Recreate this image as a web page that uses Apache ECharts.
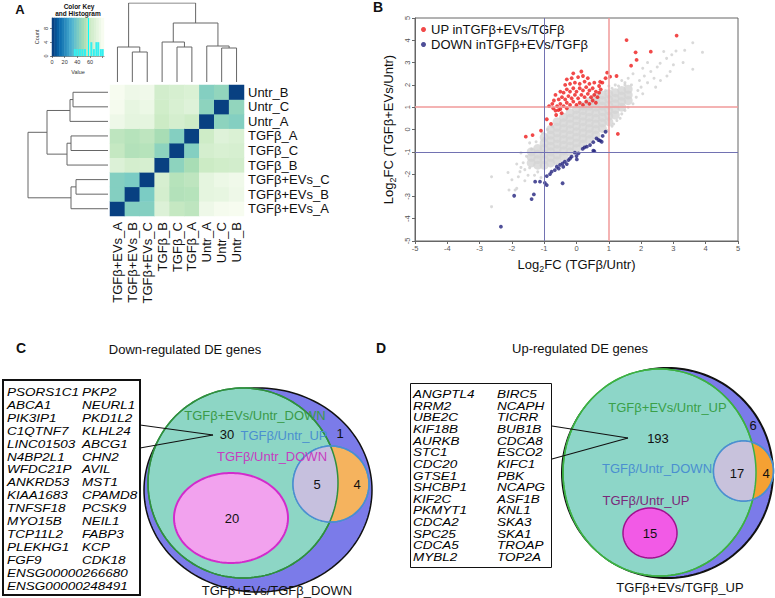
<!DOCTYPE html>
<html><head><meta charset="utf-8">
<script src="https://cdn.jsdelivr.net/npm/echarts@6/dist/echarts.min.js"></script>
<style>html,body{margin:0;padding:0;background:#fff}#c{width:775px;height:598px}</style>
</head><body><div id="c"></div>
<script>
const FONT = '"Liberation Sans", Arial, Helvetica, sans-serif';

// ---------- Panel A data ----------
const samples = ['TGFβ+EVs_A','TGFβ+EVs_B','TGFβ+EVs_C','TGFβ_B','TGFβ_C','TGFβ_A','Untr_A','Untr_C','Untr_B'];
const distMatrix = [
  [ 0, 42, 42, 68, 58, 56, 76, 79, 80],
  [42,  0, 40, 64, 53, 54, 72, 73, 76],
  [42, 40,  0, 65, 54, 56, 72, 75, 77],
  [68, 64, 65,  0, 44, 50, 60, 62, 63],
  [58, 53, 54, 44,  0, 42, 64, 66, 65],
  [56, 54, 56, 50, 42,  0, 61, 69, 67],
  [76, 72, 72, 60, 64, 61,  0, 44, 42],
  [79, 73, 75, 62, 66, 69, 44,  0, 45],
  [80, 76, 77, 63, 65, 67, 42, 45,  0]
];
// [childA, childB, height]; nodes 0-8 are leaves, 9+ are merges in order
const colMerges = [[1,2,30],[0,9,35],[4,5,35],[3,11,40],[7,8,34],[6,13,36],[12,14,59],[10,15,79]];
const rowMerges = [[1,2,32],[0,9,37],[4,5,37],[3,11,41],[7,8,35],[6,13,38],[12,14,61],[10,15,80]];
const keySteps = [0,4,8,12,16,20,24,28,32,36,40,44,48,52,56,60,64,68,72,76,80];
const histBins = [[36,2],[40,2],[44,2],[48,2],[52,2],[62,4],[66,2],[70,4],[73,4],[77,2],[80,2]];
const histPeak = 57;
const gnbu = ['#084081','#0868ac','#2b8cbe','#4eb3d3','#7bccc4','#a8ddb5','#ccebc5','#e0f3db','#f7fcf0'];

// ---------- Panel B data ----------
const fcThreshold = 1;
const upName = 'UP inTGFβ+EVs/TGFβ';
const downName = 'DOWN inTGFβ+EVs/TGFβ';
const grayCore = [
  [-1.4,-1.5],[-1.4,-1.25],[-1.4,-1.0],
  [-1.2,-1.6],[-1.2,-1.35],[-1.2,-1.1],[-1.2,-0.85],
  [-1,-1.6],[-1,-1.35],[-1,-1.1],[-1,-0.85],[-1,-0.6],[-1,-0.35],
  [-0.8,-1.5],[-0.8,-1.25],[-0.8,-1.0],[-0.8,-0.75],[-0.8,-0.5],[-0.8,-0.25],[-0.8,0.0],
  [-0.6,-1.4],[-0.6,-1.15],[-0.6,-0.9],[-0.6,-0.65],[-0.6,-0.4],[-0.6,-0.15],[-0.6,0.1],[-0.6,0.35],
  [-0.4,-1.2],[-0.4,-0.95],[-0.4,-0.7],[-0.4,-0.45],[-0.4,-0.2],[-0.4,0.05],[-0.4,0.3],[-0.4,0.55],
  [-0.2,-1.0],[-0.2,-0.75],[-0.2,-0.5],[-0.2,-0.25],[-0.2,0.0],[-0.2,0.25],[-0.2,0.5],[-0.2,0.75],
  [0,-0.85],[0,-0.6],[0,-0.35],[0,-0.1],[0,0.15],[0,0.4],[0,0.65],[0,0.9],
  [0.2,-0.65],[0.2,-0.4],[0.2,-0.15],[0.2,0.1],[0.2,0.35],[0.2,0.6],[0.2,0.85],[0.2,1.05],
  [0.4,-0.45],[0.4,-0.2],[0.4,0.05],[0.4,0.3],[0.4,0.55],[0.4,0.8],[0.4,1.05],[0.4,1.25],
  [0.6,-0.25],[0.6,0.0],[0.6,0.25],[0.6,0.5],[0.6,0.75],[0.6,1.0],[0.6,1.25],[0.6,1.45],
  [0.8,0.05],[0.8,0.3],[0.8,0.55],[0.8,0.8],[0.8,1.05],[0.8,1.3],[0.8,1.55],
  [1,0.35],[1,0.6],[1,0.85],[1,1.1],[1,1.35],[1,1.6],
  [1.2,0.65],[1.2,0.9],[1.2,1.15],[1.2,1.4],[1.2,1.65],
  [1.4,1.0],[1.4,1.25],[1.4,1.5],[1.4,1.75],
  [1.6,1.3],[1.6,1.55],[1.6,1.8]
];
const graySparse = [
  [-2.63,-3.46],[-2.63,-2.12],[-2.12,-1.93],[-1.90,-2.71],[-2.09,-2.71],[-1.80,-2.12],[-1.65,-1.49],[-1.39,-0.89],
  [-1.60,-1.80],[-1.50,-2.05],[-1.72,-1.70],[-1.45,-1.72],[-1.20,-1.90],[-1.10,-2.15],[-1.30,-2.05],[-1.55,-1.20],
  [-1.72,-1.05],[-1.25,-0.55],[-1.05,-0.15],[-1.45,-0.60],[-1.60,-2.30],[-1.85,-1.55],[-2.0,-2.25],[-1.85,-2.64],[-1.75,-1.89],
  [1.10,0.15],[1.25,0.40],[1.40,0.70],[1.60,1.00],[1.15,0.25],[1.35,0.50],[0.95,-0.05],[1.50,0.85],[1.75,1.15],
  [1.85,1.45],[2.05,1.60],[1.90,1.75],[1.70,2.00],[1.95,2.20],[2.00,1.90],[2.10,2.40],[2.20,2.10],[2.30,2.60],
  [2.40,2.30],[2.50,2.80],[2.59,2.97],[2.79,3.19],[2.90,2.60],[3.08,3.52],[3.30,3.00],[3.60,3.89],[3.90,3.46],
  [3.60,2.70],[1.60,2.30],[1.50,2.10],[1.75,2.50],[2.05,2.75],[2.20,3.00],[2.45,1.90],[2.60,2.20],[2.80,2.40],
  [3.00,2.90],[1.40,2.20],[1.20,2.00],[1.00,1.95],[2.95,3.35],[3.35,3.55],[2.70,3.50],
  [-0.75,0.15],[-0.9,0.0],[-1.0,-0.4],[0.7,1.6],[0.9,1.75],[1.1,1.85],[1.3,1.95],[1.5,2.0]
];
const upPts = [
  [-0.6,1.05],[-0.5,1.15],[-0.4,1.05],[-0.3,1.2],[-0.2,1.1],[-0.1,1.25],[0.0,1.1],[0.1,1.2],[0.2,1.1],[0.3,1.25],[0.4,1.15],[0.5,1.3],[0.6,1.2],
  [-0.55,1.35],[-0.45,1.45],[-0.35,1.35],[-0.25,1.5],[-0.15,1.4],[-0.05,1.55],[0.05,1.4],[0.15,1.55],[0.25,1.45],[0.35,1.6],[0.45,1.45],[0.55,1.55],[0.65,1.45],
  [-0.5,1.7],[-0.4,1.65],[-0.3,1.8],[-0.2,1.7],[-0.1,1.85],[0.0,1.7],[0.1,1.85],[0.2,1.75],[0.3,1.9],[0.4,1.75],[0.5,1.85],[0.6,1.7],[0.7,1.65],
  [-0.35,2.0],[-0.2,2.05],[-0.05,2.1],[0.1,2.05],[0.25,2.15],[0.4,2.05],[0.55,2.1],[0.7,1.95],
  [-0.15,2.3],[0.05,2.35],[0.2,2.4],[0.35,2.3],[-0.3,2.25],[-0.1,2.52],[0.15,2.6],
  [-0.7,1.3],[-0.75,1.15],[-0.65,1.55],[0.75,1.8],[0.8,2.1],[0.73,2.14],[0.9,2.3],
  [-0.5,0.92],[-0.46,0.73],[-0.56,0.87],[-0.63,0.65],[-0.79,0.25],[-0.92,0.46],[-1.10,-0.05],[-1.36,-0.25],[-1.57,-0.32],
  [-0.72,0.95],[-0.85,1.05],[-0.3,0.95],[-0.65,0.85],
  [1.04,2.37],[1.24,2.40],[1.69,2.86],[1.86,3.12],[1.83,3.46],[2.30,3.49],[1.55,4.01],[3.10,4.21],[1.28,-0.20],[0.95,2.55]
];
const downPts = [
  [0.90,-0.10],[0.81,-0.29],[0.73,-0.50],[0.62,-0.40],[0.52,-0.57],[0.52,-0.95],[0.32,-0.77],[0.19,-0.87],[0.06,-1.07],
  [0.00,-1.19],[-0.05,-1.04],[0.01,-1.34],[-0.15,-1.22],[-0.25,-1.37],[-0.36,-1.44],[-0.43,-1.52],[-0.30,-1.55],
  [-0.51,-1.59],[-0.41,-1.67],[-0.61,-1.67],[-0.67,-1.82],[-0.77,-1.89],[-0.82,-2.00],[-0.92,-2.09],[-0.98,-2.39],
  [-0.92,-2.49],[-0.43,-2.41],[-1.13,-2.34],[-1.28,-2.34],[-1.32,-2.91],[-1.39,-3.12],[-1.93,-2.97],[-2.34,-4.36],
  [0.55,-0.97],[-0.2,-1.3],[-0.55,-1.75],[0.25,-0.8],[0.42,-0.7],[0.68,-0.47],[0.78,-0.55]
];

// ---------- Panels C / D data ----------
const downTitle = 'Down-regulated DE genes';
const upTitle = 'Up-regulated DE genes';
const downGenesLeft = ['PSORS1C1','ABCA1','PIK3IP1','C1QTNF7','LINC01503','N4BP2L1','WFDC21P','ANKRD53','KIAA1683','TNFSF18','MYO15B','TCP11L2','PLEKHG1','FGF9','ENSG00000266680','ENSG00000248491'];
const downGenesRight = ['PKP2','NEURL1','PKD1L2','KLHL24','ABCG1','CHN2','AVIL','MST1','CPAMD8','PCSK9','NEIL1','FABP3','KCP','CDK18'];
const upGenesLeft = ['ANGPTL4','RRM2','UBE2C','KIF18B','AURKB','STC1','CDC20','GTSE1','SHCBP1','KIF2C','PKMYT1','CDCA2','SPC25','CDCA5','MYBL2'];
const upGenesRight = ['BIRC5','NCAPH','TICRR','BUB1B','CDCA8','ESCO2','KIFC1','PBK','NCAPG','ASF1B','KNL1','SKA3','SKA1','TROAP','TOP2A'];
const downSets = ['TGFβ+EVs/Untr_DOWN','TGFβ/Untr_UP','TGFβ/Untr_DOWN','TGFβ+EVs/TGFβ_DOWN'];
const upSets = ['TGFβ+EVs/Untr_UP','TGFβ/Untr_DOWN','TGFβ/Untr_UP','TGFβ+EVs/TGFβ_UP'];
const downCounts = [30, 1, 5, 4, 20];
const upCounts = [193, 6, 17, 4, 15];

// ---------- Venn layout (diagram coordinates) ----------
const vennLayoutC = {
  outer: {c:[258,490], r:[114,102], fill:'#7b7be9', stroke:'#111', lw:1.5},
  big:   {c:[243,483], r:[95,95],  fill:'#8dd6c5', stroke:'#2f8f3f', lw:1.5},
  small: {c:[331,484], r:[38,38],  fill:'#f5b35e', stroke:'#4a8fd0', lw:1.5},
  lensFill: '#c6c0de',
  inner: {c:[231,518], r:[57,45],  fill:'#f2a2ee', stroke:'#d22bcc', lw:2},
  setPos: [[255,415,'#3a9a48'],[284,435,'#4a8fd0'],[272,456,'#c63cc0'],[277,590,'#111']],
  countPos: [[227,434],[340,433],[317,484],[357,484],[232,518]],
  pointer: [[[140,425],[213,435]],[[140,448],[213,435]]]
};
const vennLayoutD = {
  outer: {c:[667.5,473], r:[105.5,105], fill:'#7b7be9', stroke:'#111', lw:2},
  big:   {c:[659.5,472.5], r:[96.5,103.5], fill:'#8dd6c8', stroke:'#3cb043', lw:1.5},
  small: {c:[743.5,471], r:[30,30], fill:'#f5a133', stroke:'#4a8fd0', lw:1.5},
  lensFill: '#c8c2dc',
  inner: {c:[650,533], r:[27,25], fill:'#f25ae6', stroke:'#a0108f', lw:1.5},
  setPos: [[667.5,407,'#3aa048'],[657,468,'#4a8fd0'],[646,500,'#7a2a7a'],[680,587,'#111']],
  countPos: [[658,438],[753,425],[737,473],[766,473],[650,533]],
  pointer: [[[552,426],[628,438]],[[552,459],[628,438]]]
};

function buildVenn(L, sets, counts) {
  const parts = [];
  parts.push(Object.assign({kind:'ellipse'}, L.outer));
  parts.push(Object.assign({kind:'ellipse'}, L.big));
  parts.push(Object.assign({kind:'ellipse'}, L.small));
  parts.push({kind:'lens', a:L.small, b:L.big, fill:L.lensFill});
  parts.push(Object.assign({kind:'outline'}, L.big));
  parts.push(Object.assign({kind:'outline'}, L.small));
  parts.push(Object.assign({kind:'ellipse'}, L.inner));
  L.pointer.forEach(p => parts.push({kind:'line', pts:p}));
  sets.forEach((s,i) => parts.push({kind:'text', text:s, p:[L.setPos[i][0],L.setPos[i][1]], color:L.setPos[i][2]}));
  counts.forEach((n,i) => parts.push({kind:'text', text:String(n), p:L.countPos[i], color:'#111'}));
  return parts;
}
const vennParts = buildVenn(vennLayoutC, downSets, downCounts).concat(buildVenn(vennLayoutD, upSets, upCounts));

function ellipsePts(c, r, n) {
  const pts = [];
  for (let k = 0; k < n; k++) {
    const t = 2 * Math.PI * k / n;
    pts.push([c[0] + r[0] * Math.cos(t), c[1] + r[1] * Math.sin(t)]);
  }
  return pts;
}
function renderVenn(params, api) {
  const p = vennParts[params.dataIndex];
  const sz = r => { const s = api.size(r); return [Math.abs(s[0]), Math.abs(s[1])]; };
  if (p.kind === 'ellipse' || p.kind === 'outline') {
    return {type:'polygon', shape:{points: ellipsePts(api.coord(p.c), sz(p.r), 160)},
      style:{fill: p.kind === 'outline' ? 'none' : p.fill, stroke:p.stroke, lineWidth:p.lw}};
  }
  if (p.kind === 'lens') {
    const ca = api.coord(p.a.c), ra = sz(p.a.r), cb = api.coord(p.b.c), rb = sz(p.b.r);
    const pts = ellipsePts(ca, ra, 200).map(q => {
      const dx = (q[0] - cb[0]) / rb[0], dy = (q[1] - cb[1]) / rb[1];
      const s = Math.sqrt(dx * dx + dy * dy);
      return s > 1 ? [cb[0] + (q[0] - cb[0]) / s, cb[1] + (q[1] - cb[1]) / s] : q;
    });
    return {type:'polygon', shape:{points:pts}, style:{fill:p.fill}};
  }
  if (p.kind === 'line') {
    return {type:'polyline', shape:{points: p.pts.map(q => api.coord(q))}, style:{stroke:'#111', lineWidth:1.2, fill:'none'}};
  }
  const c = api.coord(p.p);
  return {type:'text', style:{text:p.text, x:c[0], y:c[1], fill:p.color, fontSize:13, fontFamily:FONT,
    align:'center', verticalAlign:'middle', textAlign:'center', textVerticalAlign:'middle'}};
}

// ---------- helpers ----------
function dendroLines(merges, n, horizontal) {
  const pos = [], hgt = [], out = [];
  for (let i = 0; i < n; i++) { pos[i] = i; hgt[i] = 0; }
  merges.forEach((m, k) => {
    const [a, b, h] = m, id = n + k;
    pos[id] = (pos[a] + pos[b]) / 2; hgt[id] = h;
    const c = [[pos[a], hgt[a]], [pos[a], h], [pos[b], h], [pos[b], hgt[b]]];
    out.push({coords: horizontal ? c.map(q => [q[1], q[0]]) : c});
  });
  return out;
}
const heatData = [];
for (let i = 0; i < samples.length; i++) for (let j = 0; j < samples.length; j++) heatData.push([i, j, distMatrix[i][j]]);

const GENE_SCALE = 0.84;
function geneText(lines, x, y, lh) {
  return {type:'text', x:x, y:y, scaleY:GENE_SCALE,
    style:{text:lines.join('\n'), x:0, y:0, font:'italic 13.5px ' + FONT, lineHeight:lh / GENE_SCALE, fill:'#000',
      verticalAlign:'top', textVerticalAlign:'top'}};
}
function label(text, x, y, font, color) {
  return {type:'text', x:x, y:y, style:{text:text, font:font, fill:color || '#111',
    align:'center', verticalAlign:'middle', textAlign:'center', textVerticalAlign:'middle'}};
}

const smallAxis = {fontSize:5.5, color:'#333', fontFamily:FONT};
const scatterLabel = {fontSize:7.5, color:'#555', fontFamily:FONT};
const hidden = {show:false};

const option = {
  animation:false,
  backgroundColor:'#fff',
  textStyle:{fontFamily:FONT},
  grid:[
    {left:110, top:85, width:134, height:131},
    {left:110, top:3, width:134, height:79},
    {left:28, top:85, width:80, height:131},
    {left:52, top:18, width:52, height:38},
    {left:415, top:18, width:323, height:223, show:true, borderColor:'#666', borderWidth:1},
    {left:0, top:0, width:775, height:598}
  ],
  xAxis:[
    {type:'category', gridIndex:0, data:samples, position:'bottom', axisLine:hidden, axisTick:hidden,
      axisLabel:{rotate:90, fontSize:13, margin:6, color:'#111', interval:0}},
    {type:'value', gridIndex:1, min:-0.5, max:8.5, show:false},
    {type:'value', gridIndex:2, min:0, max:80, inverse:true, show:false},
    {type:'category', gridIndex:3, data:keySteps.map(String), position:'top', show:false},
    {type:'value', gridIndex:3, min:0, max:82, interval:20, position:'bottom', splitLine:hidden,
      axisLine:{onZero:false, lineStyle:{color:'#333', width:0.6}}, axisTick:{length:2, lineStyle:{color:'#333', width:0.6}},
      axisLabel:Object.assign({margin:3, showMaxLabel:false, formatter: v => v <= 60 ? String(v) : ''}, smallAxis),
      name:'Value', nameLocation:'middle', nameGap:13, nameTextStyle:smallAxis},
    {type:'value', gridIndex:4, min:-5, max:5, interval:1, splitLine:hidden,
      axisLine:{onZero:false, lineStyle:{color:'#666'}}, axisTick:{length:3, lineStyle:{color:'#666'}},
      axisLabel:Object.assign({margin:3}, scatterLabel),
      name:'Log{s|2}FC (TGFβ/Untr)', nameLocation:'middle', nameGap:14,
      nameTextStyle:{fontSize:13, color:'#111', lineHeight:18, rich:{s:{fontSize:9, lineHeight:9, verticalAlign:'bottom'}}}},
    {type:'value', gridIndex:5, min:0, max:775, show:false}
  ],
  yAxis:[
    {type:'category', gridIndex:0, data:samples, position:'right', axisLine:hidden, axisTick:hidden,
      axisLabel:{fontSize:13, margin:4, color:'#111', interval:0}},
    {type:'value', gridIndex:1, min:0, max:79, show:false},
    {type:'value', gridIndex:2, min:-0.5, max:8.5, show:false},
    {type:'category', gridIndex:3, data:['key'], position:'right', show:false},
    {type:'value', gridIndex:3, min:0, max:11, interval:4, position:'left', splitLine:hidden,
      axisLine:{onZero:false, lineStyle:{color:'#333', width:0.6}}, axisTick:{length:2, lineStyle:{color:'#333', width:0.6}},
      axisLabel:Object.assign({margin:3, rotate:90, showMaxLabel:false}, smallAxis),
      name:'Count', nameLocation:'middle', nameGap:12, nameRotate:90, nameTextStyle:smallAxis},
    {type:'value', gridIndex:4, min:-5, max:5, interval:1, splitLine:hidden,
      axisLine:{onZero:false, lineStyle:{color:'#666'}}, axisTick:{length:3, lineStyle:{color:'#666'}},
      axisLabel:Object.assign({margin:4, rotate:90}, scatterLabel),
      name:'Log{s|2}FC (TGFβ+EVs/Untr)', nameLocation:'middle', nameGap:18, nameRotate:90,
      nameTextStyle:{fontSize:13, color:'#111', lineHeight:18, rich:{s:{fontSize:9, lineHeight:9, verticalAlign:'bottom'}}}},
    {type:'value', gridIndex:5, min:0, max:598, inverse:true, show:false}
  ],
  visualMap:{type:'continuous', min:0, max:80, show:false, seriesIndex:[0,3], dimension:2, inRange:{color:gnbu}},
  legend:{data:[upName, downName], orient:'vertical', left:421, top:23, icon:'circle', itemWidth:5, itemHeight:5,
    itemGap:2, padding:0, textStyle:{fontSize:13, color:'#111', fontFamily:FONT}, selectedMode:false},
  graphic:[
    label('A', 20, 9, 'bold 13px ' + FONT),
    label('B', 378, 7, 'bold 14px ' + FONT),
    label('C', 21, 348, 'bold 14px ' + FONT),
    label('D', 381, 348, 'bold 14px ' + FONT),
    label('Color Key', 79, 6, 'bold 6.5px ' + FONT),
    label('and Histogram', 78, 13, 'bold 6.5px ' + FONT),
    label(downTitle, 185, 349, '13px ' + FONT),
    label(upTitle, 580, 348, '13px ' + FONT),
    {type:'rect', shape:{x:3, y:380, width:137, height:215}, style:{fill:'none', stroke:'#111', lineWidth:2}},
    {type:'rect', shape:{x:410.5, y:383.5, width:141, height:184}, style:{fill:'none', stroke:'#111', lineWidth:1}},
    geneText(downGenesLeft, 7, 386, 12.9),
    geneText(downGenesRight, 82, 386, 12.9),
    geneText(upGenesLeft, 413, 388.5, 11.65),
    geneText(upGenesRight, 497, 388.5, 11.65)
  ],
  series:[
    {type:'heatmap', xAxisIndex:0, yAxisIndex:0, data:heatData, silent:true},
    {type:'lines', coordinateSystem:'cartesian2d', xAxisIndex:1, yAxisIndex:1, polyline:true, silent:true,
      data:dendroLines(colMerges, samples.length, false), lineStyle:{color:'#666', width:1, opacity:1}},
    {type:'lines', coordinateSystem:'cartesian2d', xAxisIndex:2, yAxisIndex:2, polyline:true, silent:true,
      data:dendroLines(rowMerges, samples.length, true), lineStyle:{color:'#666', width:1, opacity:1}},
    {type:'heatmap', xAxisIndex:3, yAxisIndex:3, data:keySteps.map((v,i) => [i, 0, v]), silent:true},
    {type:'bar', xAxisIndex:4, yAxisIndex:4, data:histBins, barWidth:2, silent:true,
      itemStyle:{color:'#33f0f0'},
      markLine:{silent:true, symbol:'none', label:hidden, data:[{xAxis:histPeak}], lineStyle:{color:'#00ffff', width:1, type:'solid'}}},
    {type:'scatter', name:'core', xAxisIndex:5, yAxisIndex:5, data:grayCore, symbolSize:9, z:1, silent:true,
      itemStyle:{color:'#d5d5d5'}},
    {type:'scatter', name:'all', xAxisIndex:5, yAxisIndex:5, data:graySparse, symbolSize:3, z:2, silent:true,
      itemStyle:{color:'#d0d0d0'},
      markLine:{silent:true, symbol:'none', label:hidden, data:[
        {yAxis:fcThreshold, lineStyle:{color:'#f09a9a', width:1.5, type:'solid'}},
        {xAxis:fcThreshold, lineStyle:{color:'#f09a9a', width:1.5, type:'solid'}},
        {yAxis:-fcThreshold, lineStyle:{color:'#7272b2', width:1, type:'solid'}},
        {xAxis:-fcThreshold, lineStyle:{color:'#7272b2', width:1, type:'solid'}}
      ]}},
    {type:'scatter', name:upName, xAxisIndex:5, yAxisIndex:5, data:upPts, symbolSize:3.8, z:3, silent:true,
      itemStyle:{color:'#ee1c1c'}},
    {type:'scatter', name:downName, xAxisIndex:5, yAxisIndex:5, data:downPts, symbolSize:3.8, z:3, silent:true,
      itemStyle:{color:'#23237e'}},
    {type:'custom', xAxisIndex:6, yAxisIndex:6, data:vennParts.map((p,i) => [i]), renderItem:renderVenn,
      clip:false, silent:true, z:5}
  ]
};
const chart = echarts.init(document.getElementById('c'), null, {renderer:'svg'});
chart.setOption(option);
</script></body></html>
